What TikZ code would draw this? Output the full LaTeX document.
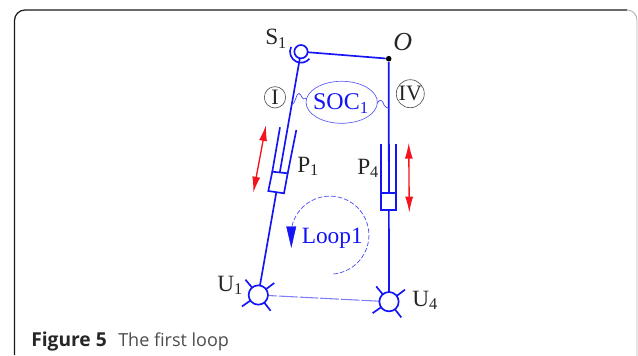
\documentclass[tikz,border=0pt]{standalone}
\usepackage{fontspec}
\setmainfont{Liberation Serif}
\newfontfamily\capfont{Open Sans}
\usetikzlibrary{arrows.meta,positioning,calc,shapes.geometric}

\definecolor{linkblue}{RGB}{20,20,245}
\definecolor{arrowred}{RGB}{245,20,30}

\begin{document}
\begin{tikzpicture}[
    x=0.75pt, y=-0.75pt,
    link/.style={draw=linkblue, line width=1.25pt},
    thinlink/.style={draw=linkblue!75, line width=0.55pt},
    jointU/.style={circle, draw=linkblue, line width=1.25pt, fill=white, minimum size=14.5pt, inner sep=0pt},
    jointS/.style={circle, draw=linkblue, line width=1.25pt, fill=white, minimum size=10pt, inner sep=0pt},
    cylbox/.style={draw=linkblue, line width=1.25pt, fill=white},
    motion/.style={<->, >={Latex[length=12pt,width=6pt]}, draw=arrowred, line width=1pt},
    label_black/.style={font=\fontsize{17.5}{17.5}\selectfont, text=black!85, inner sep=0pt},
    label_blue/.style={font=\fontsize{17.5}{17.5}\selectfont, text=linkblue, inner sep=0pt},
    ringlabel/.style={circle, draw=black!65, line width=0.5pt, minimum size=16pt, inner sep=0pt, font=\fontsize{16.5}{16.5}\selectfont, text=black!85}
]
\useasboundingbox (0,0) rectangle (638,356);

% --- Caption frame ---
\draw[black!90, line width=0.9pt] (14.5,355) -- (14.5,20.5) arc[start angle=180, end angle=270, radius=10.5] -- (627,10);
\draw[black!30, line width=0.7pt] (627,10) arc[start angle=270, end angle=360, radius=10] -- (637,356);
\node[anchor=base west, inner sep=0pt, font=\capfont\fontsize{14.4}{14.4}\selectfont, text=black!85] (Caption) at (31,346.5) {\textbf{Figure 5}\hspace{0.6em}{\fontsize{13.5}{13.5}\selectfont\color{black!70}The first loop}};

% --- Joints ---
\coordinate (S1) at (301,51.7);
\node[circle, fill=black, minimum size=4.2pt, inner sep=0pt] (O) at (388.7,58.7) {};
\coordinate (U1) at (258.3,295);
\coordinate (U4) at (389,301.7);

% Links
\draw[link] (S1) -- (U1);
\draw[link] (S1) -- (O);
\draw[link] (O) -- (U4);
\draw[draw=linkblue!55, line width=0.8pt, dash pattern=on 14pt off 1.5pt] (U1) -- (U4);

% Cylinder P1
\draw[cylbox] (272.3,171.7) -- (287.7,173.3) -- (284,193.3) -- (268.3,191) -- cycle;
\draw[link] (272.3,171.7) -- (280,127.3);
\draw[link] (287.7,173.3) -- (296.3,130);

% Cylinder P4
\draw[cylbox] (381,192.7) rectangle (395.7,210);
\draw[link] (381,192.7) -- (381,144);
\draw[link] (395.7,192.7) -- (395.7,144);
\draw[link] (388.7,144) -- (388.7,192.7);

% Motion arrows
\coordinate (P1a) at (266,125);
\coordinate (P1b) at (253.3,192.7);
\coordinate (P4a) at (408.7,142.7);
\coordinate (P4b) at (409.3,212.7);
\draw[motion] (P1a) -- (P1b);
\draw[motion] (P4a) -- (P4b);

% Spherical joint
\node[jointS] (S1n) at (S1) {};
\draw[link] ($(S1)+(205:11)$) arc[start angle=205, end angle=40, radius=11];
% Universal joints
\foreach \nm in {U1,U4} {
    \foreach \a in {-37,-130,145,52} {
        \draw[link] (\nm) -- ++(\a:20);
    }
    \node[jointU] (\nm n) at (\nm) {};
}

% SOC1
\node[ellipse, draw=linkblue!70, line width=0.5pt, minimum width=53.5pt, minimum height=31.5pt, inner sep=0pt] (SOC) at (341.7,102.3) {};
\node[label_blue, font=\fontsize{18}{18}\selectfont] (SOCt) at (341,103.5) {SOC$_{\mathrm{1}}$};
\coordinate (leftrod) at (291.7,105);
\coordinate (rightrod) at (388.7,108.5);
\draw[thinlink] (leftrod) .. controls (296,103) and (296,93) .. (299,93.5) .. controls (302,94) and (301,101) .. (306.5,98.5);
\draw[thinlink] (377,103.5) .. controls (381,97) and (383,102) .. (384,105) .. controls (385,107) and (387,108) .. (rightrod);
\node[ringlabel] (I) at (275,97.3) {I};
\node[ringlabel, minimum size=21pt] (IV) at (410.3,93.7) {IV};

% Loop
\draw[thinlink, dash pattern=on 3.5pt off 1.5pt] (333.3,274) arc[start angle=85, end angle=-170, radius=39];
\draw[fill=linkblue, draw=linkblue, line width=0.3pt] (286.5,226.5) -- (296,226.5) -- (291.3,247) -- cycle;
\node[label_blue, anchor=base west] (Loop) at (301.5,243) {Loop1};

% Labels
\node[label_black, anchor=base west] (S1t) at (265,45) {S$_{\mathrm{1}}$};
\node[label_black, anchor=base west, font=\fontsize{19.5}{19.5}\selectfont] (Ot) at (393,50.5) {\textit{O}};
\node[label_black, anchor=base west] (P1t) at (297,172) {P$_{\mathrm{1}}$};
\node[label_black, anchor=base west] (P4t) at (357,174) {P$_{\mathrm{4}}$};
\node[label_black, anchor=base west] (U1t) at (217,291) {U$_{\mathrm{1}}$};
\node[label_black, anchor=base west] (U4t) at (412,306) {U$_{\mathrm{4}}$};
\end{tikzpicture}
\end{document}
